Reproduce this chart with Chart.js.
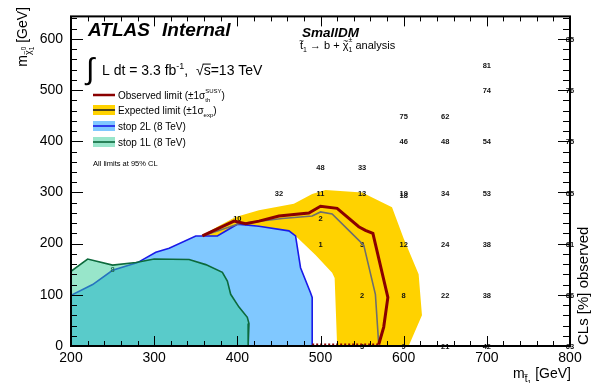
<!DOCTYPE html>
<html><head><meta charset="utf-8">
<style>html,body{margin:0;padding:0;background:#fff;overflow:hidden}canvas{display:block}</style>
<script src="https://cdn.jsdelivr.net/npm/chart.js@4.4.1/dist/chart.umd.min.js"></script>
</head><body>
<canvas id="c" width="594" height="383"></canvas>
<script>
// ---- axis ticks ----
const xTicks = [200, 300, 400, 500, 600, 700, 800];
const yTicks = [0, 100, 200, 300, 400, 500, 600];

// ---- CLs values at signal grid points (m_stop, m_chi, CLs %) ----
const gridStop = [250,400,450,500,500,500,500,550,550,550,550,550,600,600,600,600,600,600,600,650,650,650,650,650,650,700,700,700,700,700,700,700,800,800,800,800,800,800,800];
const gridLsp  = [150,250,300,350,300,250,200,350,300,200,100,0,450,400,300,295,200,100,0,450,400,300,200,100,0,550,500,400,300,200,100,0,600,500,400,300,200,100,0];
const gridCLs  = ['8','10','32','48','11','2','1','33','13','3','2','3','75','46','19','18','12','8','9','62','48','34','24','22','21','81','74','54','53','38','38','42','85','76','75','65','61','66','63'];

// ---- observed limit contour ----
const obsX = [358,376,396,410,426,450,486,500,520,546,554,563,581,576,570];
const obsY = [215,229,244,239,244,254,260,273,269,233,226,220,95,37,3];
const obsEdgeX = [490,570];
const obsEdgeY = [3,3];
// ---- expected limit contour ----
const expX = [358,402,454,490,500,514,534,552,566,570];
const expY = [215,239,249,254,262,258,226,197,101,3];
// ---- expected +-1 sigma band (closed outline) ----
const bandX = [355,376,398,426,468,490,506,550,586,600,618,622,606,520,517,514,494,472,462,426,400,376,355];
const bandY = [214,233,252,265,278,297,305,300,271,210,140,60,0,0,133,143,178,212,220,228,232,210,210];
// ---- stop 2L (8 TeV) contour ----
const s2X = [200,226,250,280,302,318,350,376,400,426,462,470,476,488,490,490];
const s2Y = [99,120,148,163,183,191,215,215,238,234,225,215,153,104,95,0];
// ---- stop 1L (8 TeV) contour ----
const s1X = [200,220,250,278,300,342,362,382,388,392,402,412,414,413];
const s1Y = [146,170,158,163,170,169,159,144,127,101,76,56,44,0];

const FAM = '"Liberation Sans", Arial, Helvetica, sans-serif';
function pts(xs, ys) { return xs.map((x, i) => ({x: x, y: ys[i]})); }

const datasets = [
  {label:'Observed limit', data: pts(obsX, obsY), borderColor:'#8a0000', borderWidth:3, fill:false, order:1},
  {label:'Observed edge', data: pts(obsEdgeX, obsEdgeY), borderColor:'#8a0000', borderWidth:2, borderDash:[2,2], fill:false, order:2},
  {label:'Expected limit', data: pts(expX, expY), borderColor:'#6e6e6e', borderWidth:1.6, fill:false, order:3},
  {label:'stop 1L line', data: pts(s1X, s1Y), borderColor:'#0c6a3c', borderWidth:1.6, fill:false, order:4},
  {label:'stop 1L', data: pts([200].concat(s1X), [0].concat(s1Y)), borderColor:'rgba(0,0,0,0)', borderWidth:0, backgroundColor:'rgba(50,205,150,0.5)', fill:'shape', order:5},
  {label:'stop 2L line', data: pts(s2X, s2Y), borderColor:'#1a1ae8', borderWidth:1.6, fill:false, order:6},
  {label:'stop 2L', data: pts([200].concat(s2X), [0].concat(s2Y)), borderColor:'rgba(0,0,0,0)', borderWidth:0, backgroundColor:'#80c8ff', fill:'shape', order:7},
  {label:'Expected band', data: pts(bandX, bandY), borderColor:'rgba(0,0,0,0)', borderWidth:0, backgroundColor:'#ffd200', fill:'shape', order:8}
];

// rich text helper: parts {t,size,dy,style,tilde,overline} or {sup,sub,size,supDy,subDy}
function rich(ctx, x, y, parts, measureOnly) {
  let cx = x;
  for (const p of parts) {
    const st = p.style || '';
    ctx.font = st + ' ' + p.size + 'px ' + FAM;
    if (p.sup !== undefined || p.sub !== undefined) {
      let w1 = 0, w2 = 0;
      if (p.sup) { w1 = ctx.measureText(p.sup).width; if (!measureOnly) ctx.fillText(p.sup, cx, y + (p.supDy !== undefined ? p.supDy : -p.size * 0.8)); }
      if (p.sub) { w2 = ctx.measureText(p.sub).width; if (!measureOnly) ctx.fillText(p.sub, cx, y + (p.subDy !== undefined ? p.subDy : p.size * 0.5)); }
      cx += Math.max(w1, w2);
      continue;
    }
    const w = ctx.measureText(p.t).width;
    const dy = p.dy || 0;
    if (!measureOnly) {
      ctx.fillText(p.t, cx, y + dy);
      if (p.tilde) {
        ctx.save();
        ctx.font = (p.size * 0.75) + 'px ' + FAM;
        ctx.textAlign = 'center';
        ctx.fillText('~', cx + w / 2, y + dy - p.size * 0.5);
        ctx.restore();
      }
      if (p.overline) {
        ctx.save(); ctx.lineWidth = 1; ctx.strokeStyle = ctx.fillStyle;
        ctx.beginPath(); ctx.moveTo(cx - 1, y + dy - p.size * 0.78); ctx.lineTo(cx + w, y + dy - p.size * 0.78); ctx.stroke();
        ctx.restore();
      }
    }
    cx += w;
  }
  return cx - x;
}

function drawGridLabels(chart) {
  const ctx = chart.ctx, sx = chart.scales.x, sy = chart.scales.y;
  ctx.save();
  ctx.font = 'bold 7.5px ' + FAM;
  ctx.fillStyle = '#111';
  ctx.textAlign = 'center';
  ctx.textBaseline = 'middle';
  for (let i = 0; i < gridCLs.length; i++) {
    ctx.fillText(gridCLs[i], sx.getPixelForValue(gridStop[i]), sy.getPixelForValue(gridLsp[i]) + 1);
  }
  ctx.restore();
}

function drawFrame(chart) {
  const ctx = chart.ctx, a = chart.chartArea, sx = chart.scales.x, sy = chart.scales.y;
  ctx.save();
  ctx.strokeStyle = '#000';
  ctx.lineWidth = 1;
  ctx.beginPath();
  for (let v = 200; v <= 800; v += 20) {
    const px = Math.round(sx.getPixelForValue(v)) + 0.5;
    const L = (v % 100 === 0) ? 10 : 5;
    ctx.moveTo(px, a.bottom); ctx.lineTo(px, a.bottom - L);
    ctx.moveTo(px, a.top); ctx.lineTo(px, a.top + L);
  }
  for (let v = 0; v <= sy.max; v += 20) {
    const py = Math.round(sy.getPixelForValue(v)) + 0.5;
    const maj = (v % 100 === 0);
    ctx.moveTo(a.left, py); ctx.lineTo(a.left + (maj ? 12 : 6), py);
    ctx.moveTo(a.right, py); ctx.lineTo(a.right - (maj ? 12 : 7), py);
  }
  ctx.stroke();
  ctx.lineWidth = 2;
  ctx.strokeRect(a.left, a.top, a.right - a.left, a.bottom - a.top);
  ctx.restore();
}

function drawTexts(chart) {
  const ctx = chart.ctx;
  ctx.save();
  ctx.fillStyle = '#000';
  ctx.textBaseline = 'alphabetic';
  ctx.textAlign = 'left';
  // ATLAS Internal
  ctx.font = 'italic bold 19px ' + FAM;
  ctx.fillText('ATLAS', 88, 36);
  ctx.fillText('Internal', 162, 36);
  // luminosity
  ctx.font = '30px ' + FAM;
  ctx.fillText('\u222B', 86, 79);
  rich(ctx, 102, 75, [
    {t:'L dt = 3.3 fb', size:14},
    {t:'-1', size:9, dy:-6},
    {t:',  ', size:14},
    {t:'\u221A', size:14},
    {t:'s', size:14, overline:true},
    {t:'=13 TeV', size:14}
  ]);
  // SmallDM
  ctx.font = 'italic bold 13.5px ' + FAM;
  ctx.fillText('SmallDM', 302, 36.5);
  rich(ctx, 300, 49, [
    {t:'t', size:11, tilde:true},
    {t:'1', size:7, dy:3},
    {t:' \u2192 b + ', size:11},
    {t:'\u03C7', size:11, tilde:true},
    {sup:'\u00B1', sub:'1', size:7, supDy:-7, subDy:3},
    {t:' analysis', size:11}
  ]);
  // legend
  const lx0 = 93, lx1 = 115;
  ctx.strokeStyle = '#8a0000'; ctx.lineWidth = 2.5;
  ctx.beginPath(); ctx.moveTo(lx0, 95); ctx.lineTo(lx1, 95); ctx.stroke();
  ctx.fillStyle = '#ffd200'; ctx.fillRect(lx0, 105, lx1 - lx0, 10);
  ctx.strokeStyle = '#222'; ctx.lineWidth = 1.6;
  ctx.beginPath(); ctx.moveTo(lx0, 110); ctx.lineTo(lx1, 110); ctx.stroke();
  ctx.fillStyle = '#80c8ff'; ctx.fillRect(lx0, 121, lx1 - lx0, 10);
  ctx.strokeStyle = '#1a1ae8';
  ctx.beginPath(); ctx.moveTo(lx0, 126); ctx.lineTo(lx1, 126); ctx.stroke();
  ctx.fillStyle = '#99e6cb'; ctx.fillRect(lx0, 137, lx1 - lx0, 10);
  ctx.strokeStyle = '#0c6a3c';
  ctx.beginPath(); ctx.moveTo(lx0, 142); ctx.lineTo(lx1, 142); ctx.stroke();
  ctx.fillStyle = '#000';
  rich(ctx, 118, 99, [
    {t:'Observed limit (\u00B11', size:10},
    {t:'\u03C3', size:10},
    {sup:'SUSY', sub:'th', size:6, supDy:-6.5, subDy:2.5},
    {t:')', size:10}
  ]);
  rich(ctx, 118, 114, [
    {t:'Expected limit (\u00B11', size:10},
    {t:'\u03C3', size:10},
    {sub:'exp', size:6, subDy:2.5},
    {t:')', size:10}
  ]);
  rich(ctx, 118, 130, [{t:'stop 2L (8 TeV)', size:10}]);
  rich(ctx, 118, 146, [{t:'stop 1L (8 TeV)', size:10}]);
  ctx.font = '7.5px ' + FAM;
  ctx.fillText('All limits at 95% CL', 93, 165.5);

  // x axis title (right aligned)
  const xt = [
    {t:'m', size:14},
    {t:'t', size:10, dy:4, tilde:true},
    {t:'1', size:7, dy:7},
    {t:' [GeV]', size:14}
  ];
  const wx = rich(ctx, 0, 0, xt, true);
  rich(ctx, 571 - wx, 378, xt);

  // y axis title (rotated, ends at top)
  const yt = [
    {t:'m', size:14},
    {t:'\u03C7', size:9, dy:4, tilde:true},
    {sup:'0', sub:'1', size:6.5, supDy:-1, subDy:7},
    {t:' [GeV]', size:14}
  ];
  const wy = rich(ctx, 0, 0, yt, true);
  ctx.save();
  ctx.translate(27, 7 + wy);
  ctx.rotate(-Math.PI / 2);
  rich(ctx, 0, 0, yt);
  ctx.restore();

  // right axis title
  ctx.save();
  ctx.translate(588, 345);
  ctx.rotate(-Math.PI / 2);
  ctx.font = '15px ' + FAM;
  ctx.fillText('CLs [%] observed', 0, 0);
  ctx.restore();
  ctx.restore();
}

const deco = {
  id: 'deco',
  afterDatasetDraw(chart, args) { if (args.index === 5) drawGridLabels(chart); },
  afterDraw(chart) { drawFrame(chart); drawTexts(chart); }
};

new Chart(document.getElementById('c'), {
  type: 'line',
  data: { datasets: datasets },
  plugins: [deco],
  options: {
    responsive: false,
    animation: false,
    events: [],
    layout: { padding: { top: 12, right: 24, left: 0, bottom: 0 } },
    elements: { point: { radius: 0 }, line: { tension: 0 } },
    plugins: { legend: { display: false }, tooltip: { enabled: false }, title: { display: false } },
    scales: {
      x: {
        type: 'linear', min: 200, max: 800,
        grid: { display: false, drawTicks: false },
        border: { display: false },
        afterFit(s) { s.height = 37; },
        afterBuildTicks(s) { s.ticks = xTicks.map(v => ({ value: v })); },
        ticks: { autoSkip: false, maxRotation: 0, padding: 4, color: '#000', font: { family: FAM, size: 14 } }
      },
      y: {
        type: 'linear', min: 0, max: 644,
        grid: { display: false, drawTicks: false },
        border: { display: false },
        afterFit(s) { s.width = 71; },
        afterBuildTicks(s) { s.ticks = yTicks.map(v => ({ value: v })); },
        ticks: { autoSkip: false, padding: 8, color: '#000', font: { family: FAM, size: 14 } }
      }
    }
  }
});
</script>
</body></html>
